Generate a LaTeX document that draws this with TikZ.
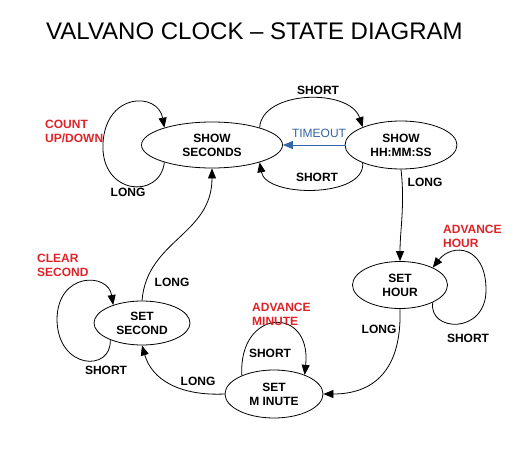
\documentclass[tikz,border=0pt]{standalone}
\usepackage{fontspec}
\setmainfont{Liberation Sans}
\usetikzlibrary{shapes.geometric,arrows.meta}
\definecolor{lblred}{RGB}{222,36,40}
\definecolor{lblblue}{RGB}{52,101,164}
\tikzset{
  state/.style={ellipse,draw,line width=0.8pt,inner sep=0pt,align=center,
    font=\fontsize{12}{14}\selectfont\bfseries},
  arr/.style={line width=0.8pt,-{Triangle[length=10pt,width=8pt]}},
  lbl/.style={font=\fontsize{12}{14}\selectfont\bfseries,inner sep=0pt},
  rlbl/.style={lbl,text=lblred,align=left},
}
\begin{document}
\begin{tikzpicture}[x=1pt,y=-1pt]
\useasboundingbox[fill=white] (0,0) rectangle (525,455);
\node[anchor=base west,inner sep=0pt,font=\fontsize{24}{28}\selectfont] (title) at (46,39) {VALVANO CLOCK – STATE DIAGRAM};

\node[state,minimum width=141pt,minimum height=46pt] (ss) at (212,145) {SHOW\\SECONDS};
\node[state,minimum width=112pt,minimum height=48pt] (hh) at (401,145) {SHOW\\HH:MM:SS};
\node[state,minimum width=95pt,minimum height=47pt] (hr) at (400,285) {SET\\HOUR};
\node[state,minimum width=98pt,minimum height=48pt] (sm) at (274,394) {SET\\M INUTE};
\node[state,minimum width=96pt,minimum height=44pt] (sc) at (142,323) {SET\\SECOND};

% SHOW SECONDS self loop
\draw[arr] (ss.200) .. controls (160,200) and (100,195) .. (103,143)
  .. controls (106,92) and (158,92) .. (ss.160);
\node[rlbl,anchor=west] (cud) at (45,131) {COUNT\\UP/DOWN};
\node[lbl] (l1) at (128,192) {LONG};

% SHORT top
\draw[arr] (ss.20) .. controls (262,90) and (350,88) .. (hh.155);
\node[lbl] (s1) at (318,90) {SHORT};
% TIMEOUT
\draw[arr,draw=lblblue,fill=lblblue] (hh.west) -- (ss.east);
\node[lbl,text=lblblue,font=\fontsize{12}{14}\selectfont] (to) at (319,133) {TIMEOUT};
% SHORT bottom
\draw[arr] (hh.205) .. controls (366,198) and (266,198) .. (ss.340);
\node[lbl] (s2) at (317,177) {SHORT};

% LONG hh -> hr
\draw[arr] (hh.south) .. controls (405,205) and (400,230) .. (hr.north);
\node[lbl] (l2) at (425,182) {LONG};

% SET HOUR loop
\draw[arr] (hr.-28) .. controls (428,332) and (486,335) .. (486,290)
  .. controls (486,245) and (452,243) .. (hr.28);
\node[rlbl,anchor=west] (ah) at (443,236) {ADVANCE\\HOUR};
\node[lbl] (s3) at (468,338) {SHORT};

% LONG hr -> sm
\draw[arr] (hr.south) .. controls (402,372) and (372,394) .. (sm.east);
\node[lbl] (l3) at (379,329) {LONG};

% SET MINUTE loop
\draw[arr] (sm.150) .. controls (238,308) and (312,305) .. (sm.32);
\node[rlbl,anchor=west] (am) at (252,314) {ADVANCE\\MINUTE};
\node[lbl] (s4) at (270,353) {SHORT};

% LONG sm -> sc
\draw[arr] (sm.west) .. controls (180,396) and (152,380) .. (sc.south);
\node[lbl] (l4) at (198,381) {LONG};

% SET SECOND loop
\draw[arr] (sc.208) .. controls (112,372) and (58,370) .. (57,320)
  .. controls (57,272) and (108,272) .. (sc.148);
\node[rlbl,anchor=west] (cs) at (37,265) {CLEAR\\SECOND};
\node[lbl] (s5) at (106,370) {SHORT};

% LONG sc -> ss
\draw[arr] (sc.north) .. controls (147,240) and (212,235) .. (ss.south);
\node[lbl] (l5) at (172,282) {LONG};
\end{tikzpicture}
\end{document}
